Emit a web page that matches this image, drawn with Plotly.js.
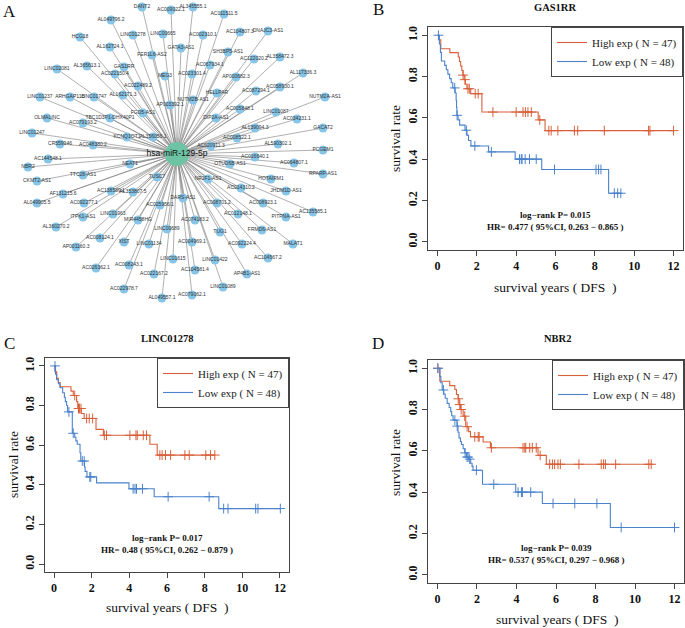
<!DOCTYPE html>
<html><head><meta charset="utf-8">
<script src="https://cdn.plot.ly/plotly-3.0.1.min.js"></script>
<style>body{margin:0;padding:0;background:#fff}#g{width:685px;height:628px}</style>
</head><body><div id="g"></div>
<script>
// ---------- Panel A: network (node layout coordinates) ----------
const hubName = "hsa-miR-129-5p";
const hubPos = [177, 154];
const nodeNames = ["DANT2","AC009022.1","AL345555.1","AC011511.5","AL049796.2","HCG18","LINC01278","LINC00665","AC002310.1","AC104807.3","DNAJC3-AS1",
"AL162724.1","GATA3-AS1","FER1L6-AS2","SH3BP5-AS1","AC122020.2","AL358472.3","LINC02081","AL365613.1","GAS1RR","AC067934.1","AC022150.4","MEG3","AC023301.4",
"AP000682.3","AL117336.3","AC022489.2","AC058930.1","LINC01237","ARHGAP11B","LINC01747","AL162171.3","HELLPAR","AC087294.1","NUTM2A-AS1","AP003392.1","NUTM2B-AS1",
"FGD5-AS1","AC005848.1","LINC01087","OLMALINC","TBC1D3P1-DHX40P1","AC079193.2","DIP2A-AS1","AC034231.1","LINC01247","KCNQ1OT1","AL356056.1","AL139094.3","GACAT2",
"CR559946","AC048380.2","AC008522.1","AC020911.3","AL590302.1","PCGEM1","AC144548.1","NBR2","NEAT1","AC016640.1","OTUD6B-AS1","AC064807.1","RPARP-AS1","CKMT2-AS1",
"TTC28-AS1","TUSC7","HOTAIRM1","NR2F1-AS1","AF131215.6","AC138589.1","AL353807.5","AC014310.2","JHDM1D-AS1","AL049905.5","AC092277.1","AC025956.1","DARS-AS1",
"AC008701.2","AC008923.1","AC135585.1","ITPK1-AS1","LINC01963","AC012148.1","PITPNA-AS1","AL360270.2","MIR4458HG","AC074183.2","LINC00689","TUG1","FRMD6-AS1",
"AP001160.3","AC008124.1","XIST","LINC01134","AC004969.1","AC092224.4","MALAT1","AC104567.2","AC026362.1","AC008243.1","LINC01615","LINC01422","AC104581.4",
"AP4B1-AS1","AC022167.2","AC022978.7","LINC01089","AL049557.1","AC079062.1"];
const nodeX = [142,171,193,224,111,80,133,163,203,240,268,
110,181,152,228,254,280,57,87,124,210,115,165,192,
236,303,138,280,40,70,94,123,217,256,325,170,193,
143,240,276,47,110,83,216,297,32,127,153,255,323,
60,93,237,211,278,323,48,28,130,255,230,294,323,37,
83,157,271,208,63,111,133,241,286,37,84,160,183,
217,263,313,83,113,238,286,56,138,195,167,220,262,
76,100,124,149,192,242,293,268,96,129,173,215,195,
247,154,124,223,162,192];
const nodeY = [7,10,7,14,20,37,35,34,35,32,31,
47,48,55,52,59,57,69,66,67,65,74,76,74,
77,73,86,87,97,97,97,95,93,91,97,105,100,
113,109,112,118,118,123,118,119,133,137,137,128,128,
144,145,138,146,144,150,159,167,164,157,164,163,174,181,
175,177,179,179,194,191,192,188,191,203,203,205,198,
203,203,212,217,214,214,217,227,220,220,229,232,230,
247,238,242,244,242,244,244,258,268,265,259,260,270,
274,274,289,287,298,295];

// ---------- Panels B, C, D: Kaplan-Meier step points (time, survival) and censor times ----------
const bHighT = [0.08,0.17,0.63,1.06,1.12,1.18,1.24,1.30,1.36,1.42,1.50,1.69,2.26,5.12,5.47];
const bHighS = [0.978,0.935,0.916,0.895,0.873,0.851,0.829,0.807,0.785,0.763,0.741,0.717,0.628,0.590,0.538];
const bHighC = [1.30,1.40,1.55,1.62,1.92,2.07,2.82,4.00,4.35,4.47,4.60,4.77,5.20,5.66,5.78,6.12,6.96,7.13,8.48,10.73,10.80,12.00];
const bLowT = [0.10,0.15,0.20,0.37,0.45,0.53,0.62,0.70,0.78,0.90,0.95,0.97,0.99,1.05,1.13,1.40,1.50,1.58,1.70,2.60,3.95,5.30,8.70];
const bLowS = [0.958,0.917,0.875,0.854,0.833,0.812,0.790,0.770,0.745,0.720,0.685,0.650,0.612,0.590,0.565,0.540,0.515,0.490,0.464,0.435,0.400,0.350,0.235];
const bLowC = [0.05,0.88,1.00,1.47,1.90,2.74,4.17,4.26,4.30,4.46,4.68,5.02,5.95,8.06,8.19,8.31,8.99,9.16,9.32];

const cHighT = [0.05,0.14,0.23,0.32,0.90,1.02,1.20,1.26,1.45,1.60,2.23,2.62,5.09,5.48];
const cHighS = [0.970,0.937,0.916,0.895,0.873,0.851,0.820,0.785,0.760,0.735,0.680,0.650,0.605,0.550];
const cHighC = [1.10,1.30,1.35,1.43,1.73,1.87,2.05,2.67,2.79,4.03,4.35,4.42,4.74,4.91,5.62,5.74,5.92,6.19,6.95,7.18,8.06,8.31,8.54];
const cLowT = [0.08,0.14,0.23,0.32,0.46,0.55,0.60,0.67,0.72,0.97,1.10,1.16,1.23,1.38,1.42,1.62,1.65,1.75,2.26,3.98,5.32,8.75];
const cLowS = [0.958,0.930,0.910,0.890,0.865,0.842,0.820,0.800,0.768,0.660,0.640,0.622,0.605,0.562,0.520,0.490,0.468,0.440,0.410,0.380,0.340,0.280];
const cLowC = [0.05,0.79,1.02,1.50,1.60,1.90,1.95,4.20,4.30,4.38,4.70,6.06,8.24,9.01,9.24,10.71,10.83,12.02];

const dHighT = [0.12,0.62,0.88,0.96,1.05,1.10,1.16,1.30,1.43,1.58,1.67,2.31,2.68,5.09,5.51];
const dHighS = [0.937,0.916,0.897,0.873,0.852,0.824,0.800,0.768,0.717,0.693,0.668,0.643,0.615,0.578,0.535];
const dHighC = [0.02,1.05,1.13,1.20,1.38,1.50,1.89,2.06,2.11,2.73,4.33,4.42,4.47,4.67,4.80,5.00,5.20,5.68,5.82,5.93,6.10,6.22,7.16,8.29,8.41,8.50,9.02,10.70,10.82];
const dLowT = [0.12,0.17,0.24,0.32,0.39,0.49,0.59,0.67,0.72,0.79,0.99,1.04,1.09,1.16,1.21,1.30,1.38,1.47,1.58,1.68,1.75,1.80,2.28,3.96,5.31,8.75];
const dLowS = [0.960,0.930,0.895,0.875,0.855,0.830,0.810,0.790,0.770,0.749,0.720,0.690,0.663,0.645,0.631,0.610,0.590,0.570,0.560,0.540,0.525,0.506,0.438,0.400,0.345,0.229];
const dLowC = [0.02,0.30,0.88,1.00,1.40,1.50,1.55,1.63,1.97,2.85,4.08,4.25,4.30,4.72,5.85,6.95,8.07,9.30,12.00];

const groupNames = ["High exp ( N = 47)", "Low exp ( N = 48)"];
const panelTitles = ["GAS1RR", "LINC01278", "NBR2"];
const panelP = ["0.015", "0.017", "0.039"];
const panelHR = ["HR= 0.477 ( 95%CI, 0.263 \u2212 0.865 )", "HR= 0.48 ( 95%CI, 0.262 \u2212 0.879 )", "HR= 0.537 ( 95%CI, 0.297 \u2212 0.968 )"];
const xTicks = [0,2,4,6,8,10,12];
const yTicks = [0.0,0.2,0.4,0.6,0.8,1.0];

// ---------- drawing ----------
const W = 685, H = 628;
const RED = "#D8603A", BLUE = "#4A82CC";
const SERIF = "Liberation Serif, Times New Roman, serif";
const SANS = "Liberation Sans, Arial, sans-serif";
const px = p => p / W, py = p => 1 - p / H;

const traces = [];
const ex = [], ey = [];
for (let i = 0; i < nodeNames.length; i++) { ex.push(hubPos[0], nodeX[i], null); ey.push(hubPos[1], nodeY[i], null); }
traces.push({type:"scatter", mode:"lines", x:ex, y:ey, xaxis:"x", yaxis:"y", line:{color:"#7a7a7a", width:0.6}, hoverinfo:"skip", showlegend:false});
traces.push({type:"scatter", mode:"markers+text", x:nodeX, y:nodeY, text:nodeNames, textposition:"middle center",
  textfont:{family:SANS, size:5, color:"#333"}, xaxis:"x", yaxis:"y",
  marker:{size:9, color:"#86C5E8", line:{width:0}}, showlegend:false, cliponaxis:false});
traces.push({type:"scatter", mode:"markers+text", x:[hubPos[0]], y:[hubPos[1]], text:[hubName], textposition:"middle center",
  textfont:{family:SANS, size:8.5, color:"#111"}, xaxis:"x", yaxis:"y",
  marker:{size:24, color:"#6CC4A4", line:{width:0}}, showlegend:false, cliponaxis:false});

function stepLookup(T, S, t) { let s = 1; for (let i = 0; i < T.length; i++) { if (T[i] <= t) s = S[i]; } return s; }
function km(T, S, C, color, name, xa, ya, leg) {
  const endT = Math.max(...C, T[T.length-1]);
  const xs = [0, ...T, endT], ys = [1, ...S, S[S.length-1]];
  traces.push({type:"scatter", mode:"lines", x:xs, y:ys, line:{shape:"hv", color:color, width:1.1},
    xaxis:xa, yaxis:ya, name:name, legend:leg, showlegend:true});
  traces.push({type:"scatter", mode:"markers", x:C, y:C.map(t => stepLookup(T, S, t)),
    marker:{symbol:"cross-thin", size:7, line:{color:color, width:1}}, xaxis:xa, yaxis:ya, showlegend:false});
}
const panels = [
  [bHighT,bHighS,bHighC,bLowT,bLowS,bLowC,"x2","y2","legend"],
  [cHighT,cHighS,cHighC,cLowT,cLowS,cLowC,"x3","y3","legend2"],
  [dHighT,dHighS,dHighC,dLowT,dLowS,dLowC,"x4","y4","legend3"]];
panels.forEach(p => { km(p[0],p[1],p[2],RED,groupNames[0],p[6],p[7],p[8]); km(p[3],p[4],p[5],BLUE,groupNames[1],p[6],p[7],p[8]); });

function kmX(dom, anc) { return {domain:dom, anchor:anc, range:[-0.48,12.48], tickvals:xTicks, ticktext:xTicks.map(String), ticks:"outside", ticklen:5, tickwidth:1, tickcolor:"#444",
  showline:true, mirror:true, linecolor:"#444", linewidth:1, showgrid:false, zeroline:false,
  tickfont:{family:SERIF, size:12, color:"#111", weight:"bold"}}; }
function kmY(dom, anc) { return {domain:dom, anchor:anc, range:[-0.04,1.04], tickvals:yTicks, ticktext:yTicks.map(v => v.toFixed(1)), ticks:"outside", ticklen:5, tickwidth:1, tickcolor:"#444",
  showline:true, mirror:true, linecolor:"#444", linewidth:1, showgrid:false, zeroline:false, tickangle:-90,
  tickfont:{family:SERIF, size:12, color:"#111", weight:"bold"}}; }
function leg(x, y) { return {x:x, y:y, xanchor:"right", yanchor:"top", bgcolor:"#fff", bordercolor:"#444", borderwidth:1,
  font:{family:SERIF, size:11, color:"#222"}, itemwidth:30, tracegroupgap:0}; }

const ann = [];
function txt(x, y, s, size, opts) { ann.push(Object.assign({xref:"paper", yref:"paper", x:px(x), y:py(y), text:s, showarrow:false,
  xanchor:"center", yanchor:"middle", font:{family:SERIF, size:size, color:"#111"}}, opts || {})); }
txt(9, 11, "A", 17); txt(378, 9, "B", 17); txt(9, 343, "C", 17); txt(378, 343, "D", 17);
const titlePos = [[555,8],[167,338],[557,338]];
const xtPos = [[555,287],[167,607],[557,619]];
const ytPos = [[395,139],[13,465],[395,463]];
const axn = [["x2","y2"],["x3","y3"],["x4","y4"]];
for (let i = 0; i < 3; i++) {
  txt(titlePos[i][0], titlePos[i][1], "<b>" + panelTitles[i] + "</b>", 10.5);
  txt(xtPos[i][0], xtPos[i][1], "survival years ( DFS  )", 13.5);
  txt(ytPos[i][0], ytPos[i][1], "survival rate", 13.5, {textangle:-90});
  ann.push({xref:axn[i][0], yref:axn[i][1], x:6, y:0.13, text:"<b>log\u2212rank P= " + panelP[i] + "</b>", showarrow:false, font:{family:SERIF, size:9, color:"#111"}});
  ann.push({xref:axn[i][0], yref:axn[i][1], x:6, y:0.073, text:"<b>" + panelHR[i] + "</b>", showarrow:false, font:{family:SERIF, size:9, color:"#111"}});
}

const layout = {
  width:W, height:H, margin:{l:0, r:0, t:0, b:0}, paper_bgcolor:"#fff", plot_bgcolor:"rgba(0,0,0,0)", showlegend:true,
  xaxis:{domain:[0, px(340)], anchor:"y", range:[0,340], visible:false, fixedrange:true},
  yaxis:{domain:[py(310), 1], anchor:"x", range:[310,0], visible:false, fixedrange:true},
  xaxis2:kmX([px(428), px(683)], "y2"), yaxis2:kmY([py(250), py(27)], "x2"),
  xaxis3:kmX([px(45), px(289)], "y3"), yaxis3:kmY([py(572), py(358)], "x3"),
  xaxis4:kmX([px(428), px(684)], "y4"), yaxis4:kmY([py(583), py(360)], "x4"),
  legend:leg(px(683), py(27)), legend2:leg(px(289), py(358)), legend3:leg(px(684), py(360)),
  annotations:ann
};
Plotly.newPlot("g", traces, layout, {staticPlot:true, displayModeBar:false});
</script></body></html>
